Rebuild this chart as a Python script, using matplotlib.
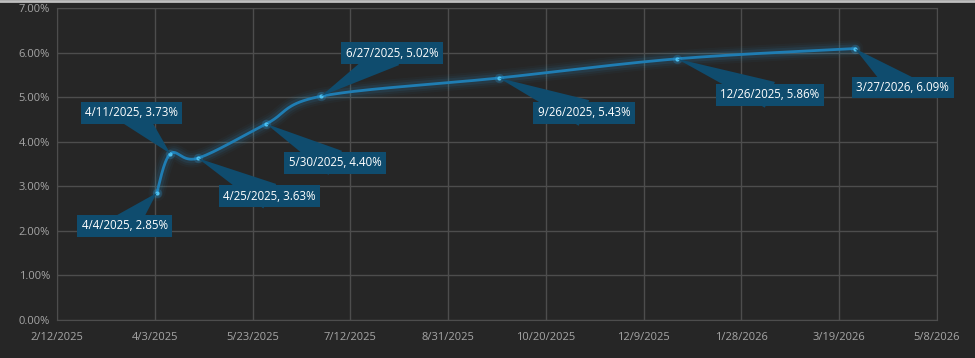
import matplotlib
matplotlib.use("Agg")
import matplotlib.pyplot as plt
import matplotlib.dates as mdates
import numpy as np
import datetime as dt

dates = ["2025-04-04", "2025-04-11", "2025-04-25", "2025-05-30",
         "2025-06-27", "2025-09-26", "2025-12-26", "2026-03-27"]
rates = [2.85, 3.73, 3.63, 4.40, 5.02, 5.43, 5.86, 6.09]
labels = ["4/4/2025, 2.85%", "4/11/2025, 3.73%", "4/25/2025, 3.63%",
          "5/30/2025, 4.40%", "6/27/2025, 5.02%", "9/26/2025, 5.43%",
          "12/26/2025, 5.86%", "3/27/2026, 6.09%"]
# label box offsets from the point, in pixels
offsets = [(-32, -33), (-39, 41), (72, -38), (69, -39),
           (71, 43), (85, -35), (93, -36), (48, -39)]

bg = "#262626"
grid_c = "#4d4d4d"
line_c = "#1f7db3"
dot_c = "#4cc0f0"
box_c = "#0f4c6e"
tick_c = "#a6a6a6"

x = mdates.date2num([dt.datetime.strptime(d, "%Y-%m-%d") for d in dates])
y = np.array(rates)


def smooth(px, py, n=40):
    # catmull-rom style smoothing like excel's smoothed line
    P = np.column_stack([px, py])
    P = np.vstack([P[0], P, P[-1]])
    out = []
    for i in range(1, len(P) - 2):
        p0, p1, p2, p3 = P[i - 1], P[i], P[i + 1], P[i + 2]
        c1 = p1 + (p2 - p0) / 6
        c2 = p2 - (p3 - p1) / 6
        t = np.linspace(0, 1, n)[:, None]
        seg = (1 - t) ** 3 * p1 + 3 * (1 - t) ** 2 * t * c1 + 3 * (1 - t) * t ** 2 * c2 + t ** 3 * p2
        out.append(seg)
    out = np.vstack(out)
    return out[:, 0], out[:, 1]


plt.rcParams['font.family'] = ['Open Sans', 'DejaVu Sans']

fig = plt.figure(figsize=(9.75, 3.58), dpi=100, facecolor=bg)
ax = fig.add_axes([57 / 975, 38 / 358, 880 / 975, 312 / 358])
ax.set_facecolor(bg)

sx, sy = smooth(x, y)
for w, a in [(12, 0.04), (9, 0.06), (6, 0.10)]:
    ax.plot(sx, sy, color="#2a9ad8", lw=w, alpha=a, solid_capstyle='round', zorder=2)
ax.plot(sx, sy, color=line_c, lw=2, zorder=3)
ax.scatter(x, y, s=45, color="#2a9ad8", alpha=0.25, zorder=4, linewidths=0)
ax.scatter(x, y, s=9, color=dot_c, zorder=5, linewidths=0)

for xi, yi, lab, off in zip(x, y, labels, offsets):
    ax.annotate(lab, (xi, yi), xytext=off, textcoords='offset pixels',
                ha='center', va='center', color='white', fontsize=8.3,
                bbox=dict(boxstyle='square,pad=0.38', fc=box_c, ec='none'),
                arrowprops=dict(arrowstyle='wedge,tail_width=2.4,shrink_factor=0.5',
                                fc=box_c, ec='none', shrinkA=0, shrinkB=0,
                                patchA=None),
                zorder=6)

start = mdates.date2num(dt.datetime(2025, 2, 12))
ax.set_xlim(start, start + 450)
ax.set_xticks(start + np.arange(0, 451, 50))
ax.xaxis.set_major_formatter(plt.FuncFormatter(
    lambda v, p: "{d.month}/{d.day}/{d.year}".format(d=mdates.num2date(v))))
ax.set_ylim(0, 7)
ax.set_yticks(np.arange(0, 8, 1))
ax.yaxis.set_major_formatter(plt.FuncFormatter(lambda v, p: "%.2f%%" % v))

ax.grid(True, color=grid_c, lw=1)
ax.set_axisbelow(True)
for s in ax.spines.values():
    s.set_color(grid_c)
ax.tick_params(length=0, colors=tick_c, labelsize=8, pad=9)
ax.tick_params(axis='y', pad=5)

fig.add_artist(plt.Line2D([0, 1], [0.997, 0.997], color="#bfbfbf", lw=2, transform=fig.transFigure))

fig.savefig("out.png", dpi=100, facecolor=bg)
